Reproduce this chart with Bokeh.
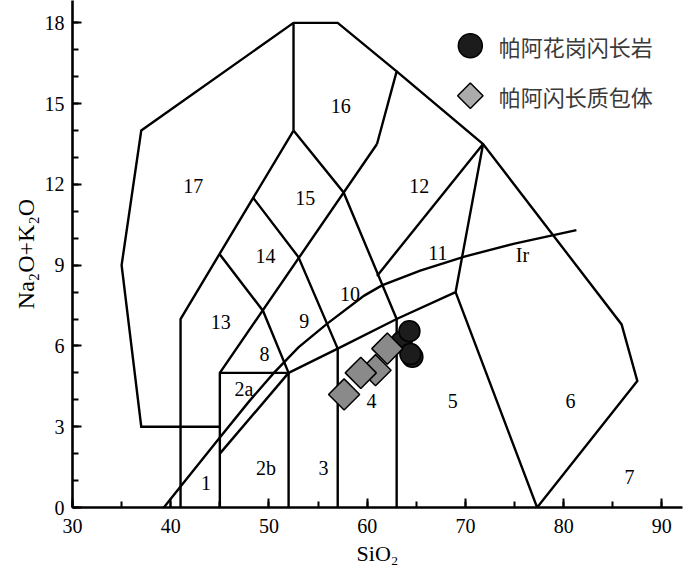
import math
from bokeh.plotting import figure
from bokeh.models import Range1d, SingleIntervalTicker
from bokeh.core.properties import value
from bokeh.embed import file_html
from bokeh.resources import INLINE

# ---- TAS field boundaries (SiO2, Na2O+K2O) ----
outline_x = [45, 37, 35, 37, 52.5, 57, 63, 61]
outline_y = [3, 3, 9, 14, 18, 18, 16.2, 13.5]
b16_x = [52.5, 52.5]
b16_y = [18, 14]
b41_x = [41, 41, 52.5]
b41_y = [0, 7, 14]
b45_x = [45, 45, 61]
b45_y = [0, 5, 13.5]
top2_x = [45, 52]
top2_y = [5, 5]
b52_x = [52, 52]
b52_y = [0, 5]
b57_x = [57, 57]
b57_y = [0, 5.9]
b63_x = [63, 63]
b63_y = [0, 7]
dr1_x = [45, 49.4, 52]
dr1_y = [9.4, 7.3, 5]
dr2_x = [48.4, 53, 57]
dr2_y = [11.5, 9.3, 5.9]
dr3_x = [52.5, 57.6, 63]
dr3_y = [14, 11.7, 7]
low_x = [52, 57, 63, 69, 71.8]
low_y = [5, 5.9, 7, 8, 13.5]
b12_x = [61, 71.8]
b12_y = [8.6, 13.5]
right_x = [63, 71.8, 85.9, 87.5, 77.3, 69]
right_y = [16.2, 13.5, 6.8, 4.7, 0, 8]
b2_x = [45, 52]
b2_y = [2, 5]
irvine_x = [39.3, 41, 45, 48, 50.5, 53, 55.9, 59.7, 61.5, 65.4, 69.9, 75, 81.3]
irvine_y = [0, 0.78, 2.6, 3.95, 5.0, 5.95, 6.82, 7.87, 8.25, 8.8, 9.32, 9.8, 10.3]

field_text = ["1", "2a", "2b", "3", "4", "5", "6", "7", "8", "9", "10",
              "11", "12", "13", "14", "15", "16", "17", "Ir"]
field_x = [43.6, 47.45, 49.7, 55.55, 60.45, 68.7, 80.7, 86.7, 49.55, 53.6, 58.25,
           67.2, 65.3, 45.1, 49.65, 53.7, 57.3, 42.3, 75.8]
field_y = [0.9, 4.4, 1.45, 1.45, 3.97, 3.97, 3.97, 1.15, 5.7, 6.94, 7.92,
           9.44, 11.95, 6.88, 9.35, 11.5, 14.93, 11.95, 9.39]

# ---- samples ----
granodiorite_name = "帕阿花岗闪长岩"
granodiorite_sio2 = [63.5, 64.3, 64.6, 64.4]
granodiorite_alk = [6.15, 6.55, 5.6, 5.7]
enclave_name = "帕阿闪长质包体"
enclave_sio2 = [60.85, 59.35, 57.65, 62.05]
enclave_alk = [5.1, 5.0, 4.2, 5.9]

SERIF = value("Liberation Serif")

p = figure(width=700, height=571, output_backend="svg", toolbar_location=None,
           x_range=Range1d(30, 92.1), y_range=Range1d(0, 18.83),
           min_border_left=72, min_border_right=18, min_border_top=0,
           min_border_bottom=64)
p.xgrid.visible = False
p.ygrid.visible = False
p.outline_line_color = None
p.background_fill_color = "white"

lines_x = [outline_x, b16_x, b41_x, b45_x, top2_x, b52_x, b57_x, b63_x,
           dr1_x, dr2_x, dr3_x, low_x, b12_x, right_x, b2_x, irvine_x]
lines_y = [outline_y, b16_y, b41_y, b45_y, top2_y, b52_y, b57_y, b63_y,
           dr1_y, dr2_y, dr3_y, low_y, b12_y, right_y, b2_y, irvine_y]
p.multi_line(lines_x, lines_y, line_color="black", line_width=2.4,
             line_join="miter")

p.text(field_x, field_y, text=field_text, text_font=SERIF,
       text_font_size="20px", text_align="center", text_baseline="middle",
       text_color="black")

p.scatter(granodiorite_sio2, granodiorite_alk, marker="circle", size=21,
          fill_color="#1c1c1c", line_color="black", line_width=1.5)
p.scatter(enclave_sio2, enclave_alk, marker="square", size=22, angle=math.pi / 4,
          fill_color="#8a8a8a", line_color="black", line_width=1.5)

# ---- legend (manual) ----
leg_x = 70.5
leg_text_x = 73.4
p.scatter([leg_x], [17.15], marker="circle", size=24, fill_color="#1c1c1c",
          line_color="black", line_width=1.5)
p.scatter([leg_x], [15.29], marker="square", size=18, angle=math.pi / 4,
          fill_color="#ababab", line_color="black", line_width=1.5)
p.text([leg_text_x, leg_text_x], [17.15, 15.29],
       text=[granodiorite_name, enclave_name],
       text_font=value("Noto Sans CJK SC"), text_font_size="22px",
       text_align="left", text_baseline="middle", text_color="#3a3a3a")

# ---- axes ----
p.xaxis.ticker = SingleIntervalTicker(interval=10, num_minor_ticks=2)
p.yaxis.ticker = SingleIntervalTicker(interval=3, num_minor_ticks=3)
for ax in (p.xaxis[0], p.yaxis[0]):
    ax.axis_line_width = 2.6
    ax.axis_line_color = "black"
    ax.major_tick_in = 9
    ax.major_tick_out = 0
    ax.minor_tick_in = 6
    ax.minor_tick_out = 0
    ax.major_tick_line_width = 2
    ax.minor_tick_line_width = 2
    ax.major_tick_line_color = "black"
    ax.minor_tick_line_color = "black"
    ax.major_label_text_font = "Liberation Serif"
    ax.major_label_text_font_size = "20px"
    ax.major_label_text_color = "black"
    ax.axis_label_text_font = "Liberation Serif"
    ax.axis_label_text_font_style = "normal"
    ax.axis_label_text_color = "black"

p.xaxis.axis_label = "SiO₂"
p.xaxis.axis_label_text_font_size = "22px"
p.xaxis.major_label_standoff = 11
p.xaxis.axis_label_standoff = 5
p.yaxis.axis_label = "Na₂O+K₂O"
p.yaxis.axis_label_text_font_size = "24px"
p.yaxis.major_label_standoff = 8
p.yaxis.axis_label_standoff = 3

open("out.html", "w").write(file_html(p, INLINE))
